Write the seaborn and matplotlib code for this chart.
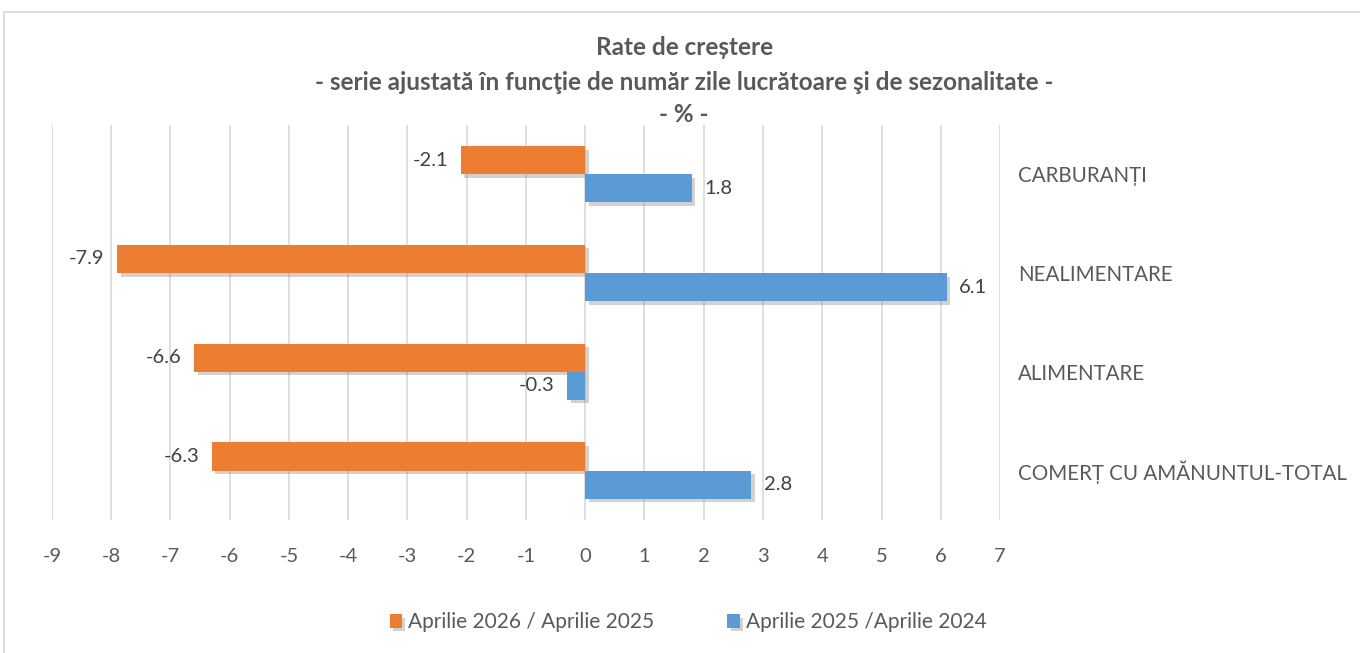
import matplotlib
matplotlib.use("Agg")
import matplotlib.pyplot as plt
import matplotlib.patheffects as pe
from matplotlib.patches import Rectangle
import pandas as pd
import seaborn as sns

categories = ["CARBURANȚI", "NEALIMENTARE", "ALIMENTARE", "COMERȚ CU AMĂNUNTUL-TOTAL"]
series_names = ["Aprilie 2026 / Aprilie 2025", "Aprilie 2025 /Aprilie 2024"]
values_2026 = [-2.1, -7.9, -6.6, -6.3]
values_2025 = [1.8, 6.1, -0.3, 2.8]
colors = ["#ED7D31", "#5B9BD5"]
x_ticks = list(range(-9, 8))

df = pd.DataFrame({
    "Categorie": categories * 2,
    "Serie": [series_names[0]] * 4 + [series_names[1]] * 4,
    "Valoare": values_2026 + values_2025,
})

sns.set_style("white")
plt.rcParams["font.family"] = ["Lato", "DejaVu Sans"]
text_color = "#595959"

fig = plt.figure(figsize=(13.6, 6.53), dpi=100)
ax = fig.add_axes([0.0382, 0.2037, 0.6971, 0.605])

sns.barplot(
    data=df,
    y="Categorie",
    x="Valoare",
    hue="Serie",
    order=categories,
    hue_order=series_names,
    palette=colors,
    width=0.57,
    gap=0,
    orient="h",
    saturation=1,
    linewidth=0,
    legend=True,
    ax=ax,
)

# soft drop shadow like the original chart
shadow = [pe.SimplePatchShadow(offset=(2.5, -2.5), shadow_rgbFace="#7F7F7F", alpha=0.35), pe.Normal()]
for patch in ax.patches:
    patch.set_edgecolor("none")
    patch.set_path_effects(shadow)

for container in ax.containers:
    labels = [f"{v:.1f}" for v in container.datavalues]
    ax.bar_label(container, labels=labels, padding=9, fontsize=14.5, color="#404040")

ax.set_xlim(-9, 7)
ax.set_xticks(x_ticks)
ax.set_xticklabels([str(t) for t in x_ticks])
ax.grid(axis="x", color="#D9D9D9", linewidth=1.2)
ax.set_axisbelow(True)
for s in ax.spines.values():
    s.set_visible(False)

ax.yaxis.tick_right()
ax.tick_params(axis="y", length=0, pad=13, labelsize=14.8, labelcolor=text_color)
ax.tick_params(axis="x", length=0, pad=20, labelsize=14.5, labelcolor=text_color)
ax.set_xlabel("")
ax.set_ylabel("")

handles, labels = ax.get_legend_handles_labels()
ax.legend_.remove()
fig.legend(
    handles, labels, loc="center", bbox_to_anchor=(0.506, 0.047), ncol=2,
    frameon=False, fontsize=15, handlelength=0.6, handleheight=0.6,
    handletextpad=0.3, columnspacing=3.5, labelcolor=text_color,
)

fig.text(0.503, 0.928, "Rate de creștere", ha="center", va="center",
         fontsize=17.5, fontweight="bold", color=text_color)
fig.text(0.503, 0.873, "- serie ajustată în funcţie de număr zile lucrătoare şi de sezonalitate -",
         ha="center", va="center", fontsize=17.5, fontweight="bold", color=text_color)
fig.text(0.503, 0.825, "- % -", ha="center", va="center",
         fontsize=17.5, fontweight="bold", color=text_color)

fig.patches.append(Rectangle((0.003, -0.01), 1.0, 0.9917, transform=fig.transFigure,
                             fill=False, edgecolor="#D9D9D9", linewidth=1.2))

fig.savefig("out.png", dpi=100)
